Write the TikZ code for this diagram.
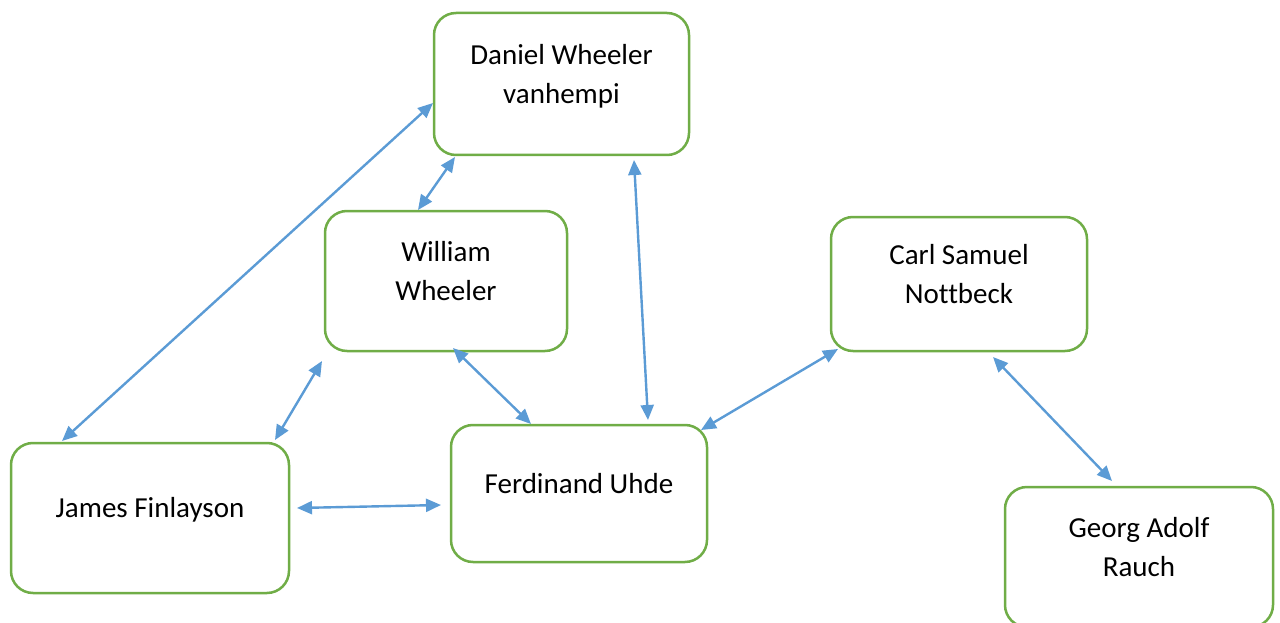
\documentclass[tikz,border=0pt]{standalone}
\usepackage{fontspec}
\setmainfont{Carlito}[Ligatures=NoCommon]
\usetikzlibrary{arrows.meta}
\definecolor{boxgreen}{HTML}{70AD47}
\definecolor{arrblue}{HTML}{5B9BD5}
\newcommand\boxtext[1]{\raisebox{8pt}[\height][\depth]{\begin{tabular}{@{}c@{}}#1\end{tabular}}}
\begin{document}
\begin{tikzpicture}[x=1pt,y=-1pt,
  person/.style={draw=boxgreen,line width=2.5pt,rounded corners=22pt,fill=white,
    inner sep=0pt,font=\fontsize{29}{39}\selectfont},
  link/.style={draw=arrblue,line width=2.4pt,{Triangle[length=15pt,width=13pt]}-{Triangle[length=15pt,width=13pt]}}]
\useasboundingbox (0,0) rectangle (1280,623);
\node[person,minimum width=255pt,minimum height=142pt] (daniel) at (561.5,84) {\boxtext{Daniel Wheeler\\vanhempi}};
\node[person,minimum width=242pt,minimum height=140pt] (william) at (446,281) {\boxtext{William\\Wheeler}};
\node[person,minimum width=256pt,minimum height=134pt] (carl) at (959,284) {\boxtext{Carl Samuel\\Nottbeck}};
\node[person,minimum width=278pt,minimum height=150pt] (james) at (150,518) {\boxtext{James Finlayson}};
\node[person,minimum width=256pt,minimum height=137pt] (ferdinand) at (579,493.5) {\boxtext{Ferdinand Uhde}};
\node[person,minimum width=268pt,minimum height=140pt] (georg) at (1139,557) {\boxtext{Georg Adolf\\Rauch}};
\coordinate (jd1) at (62,441); \coordinate (jd2) at (433,103);
\coordinate (wd1) at (418,210); \coordinate (wd2) at (455,157);
\coordinate (df1) at (634,160); \coordinate (df2) at (648,420);
\coordinate (jw1) at (275,440); \coordinate (jw2) at (322,361);
\coordinate (wf1) at (453,348); \coordinate (wf2) at (531,424);
\coordinate (fc1) at (701,430); \coordinate (fc2) at (838,349);
\coordinate (cg1) at (993,357); \coordinate (cg2) at (1112,481);
\coordinate (jf1) at (297,508); \coordinate (jf2) at (441,505);
\draw[link] (jd1) -- (jd2);
\draw[link] (wd1) -- (wd2);
\draw[link] (df1) -- (df2);
\draw[link] (jw1) -- (jw2);
\draw[link] (wf1) -- (wf2);
\draw[link] (fc1) -- (fc2);
\draw[link] (cg1) -- (cg2);
\draw[link] (jf1) -- (jf2);
\end{tikzpicture}
\end{document}
